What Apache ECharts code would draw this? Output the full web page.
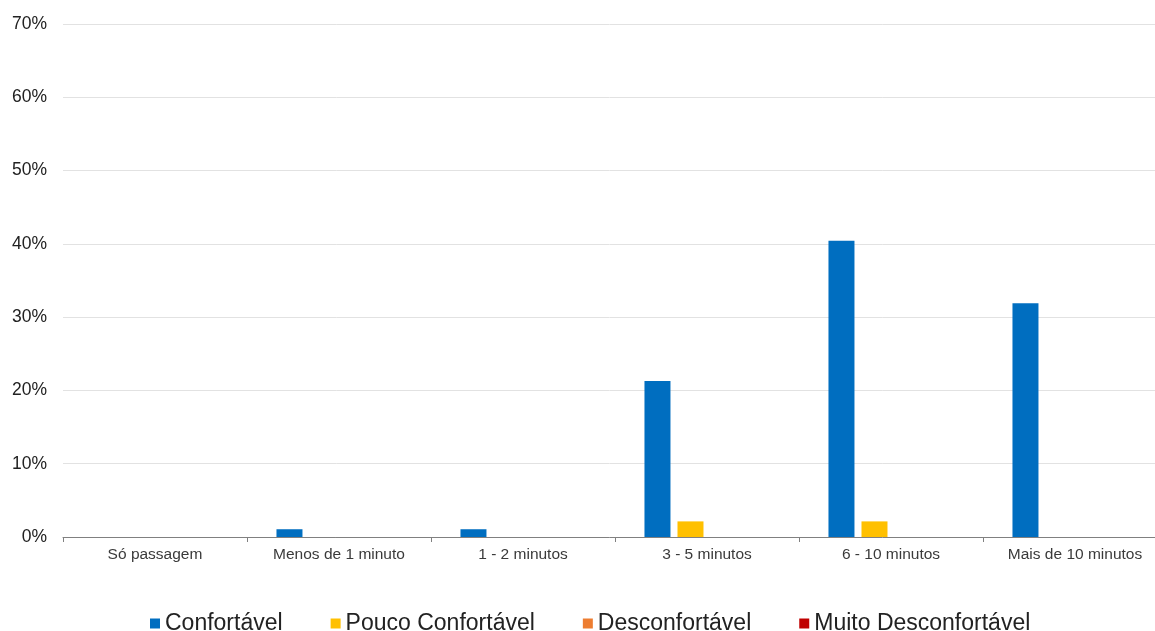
<!DOCTYPE html>
<html>
<head>
<meta charset="utf-8">
<script src="https://cdn.jsdelivr.net/npm/echarts@6/dist/echarts.min.js"></script>
<style>
html,body{margin:0;padding:0;background:#fff;}
#c{width:1155px;height:631px;}
</style>
</head>
<body>
<div id="c"></div>
<script>
const categories = ["Só passagem", "Menos de 1 minuto", "1 - 2 minutos", "3 - 5 minutos", "6 - 10 minutos", "Mais de 10 minutos"];
const seriesNames = ["Confortável", "Pouco Confortável", "Desconfortável", "Muito Desconfortável"];
const confortavel = [0, 1.06, 1.06, 21.28, 40.43, 31.91];
const poucoConfortavel = [0, 0, 0, 2.13, 2.13, 0];
const desconfortavel = [0, 0, 0, 0, 0, 0];
const muitoDesconfortavel = [0, 0, 0, 0, 0, 0];
const colors = ["#006EC0", "#FFC000", "#ED7D31", "#C00000"];
const yTicks = [0, 10, 20, 30, 40, 50, 60, 70];

const chart = echarts.init(document.getElementById('c'), null, {renderer: 'canvas'});
const seriesData = [confortavel, poucoConfortavel, desconfortavel, muitoDesconfortavel];
chart.setOption({
  animation: false,
  backgroundColor: '#ffffff',
  color: colors,
  grid: {left: 63, top: 24, right: -12, bottom: 94, containLabel: false, outerBoundsMode: 'none'},
  legend: {
    data: seriesNames,
    left: 145,
    top: 607,
    itemWidth: 10,
    itemHeight: 10,
    itemGap: 48,
    icon: 'rect',
    textStyle: {fontFamily: 'Liberation Sans, Arial, sans-serif', fontSize: 23, color: '#222'}
  },
  xAxis: {
    type: 'category',
    data: categories,
    axisLine: {lineStyle: {color: '#808080', width: 1}},
    axisTick: {show: true, length: 5, lineStyle: {color: '#808080'}},
    axisLabel: {fontFamily: 'Liberation Sans, Arial, sans-serif', fontSize: 15.5, color: '#3a3a3a', margin: 10},
    splitLine: {show: false}
  },
  yAxis: {
    type: 'value',
    min: yTicks[0],
    max: yTicks[yTicks.length - 1],
    interval: 10,
    axisLine: {show: false},
    axisTick: {show: false},
    axisLabel: {formatter: '{value}%', fontFamily: 'Liberation Sans, Arial, sans-serif', fontSize: 17.5, color: '#222', margin: 16},
    splitLine: {lineStyle: {color: '#e2e2e2', width: 1}}
  },
  series: seriesNames.map((n, i) => ({
    name: n,
    type: 'bar',
    data: seriesData[i],
    barWidth: 26,
    barGap: '27%',
    itemStyle: {color: colors[i]}
  }))
});
</script>
</body>
</html>
